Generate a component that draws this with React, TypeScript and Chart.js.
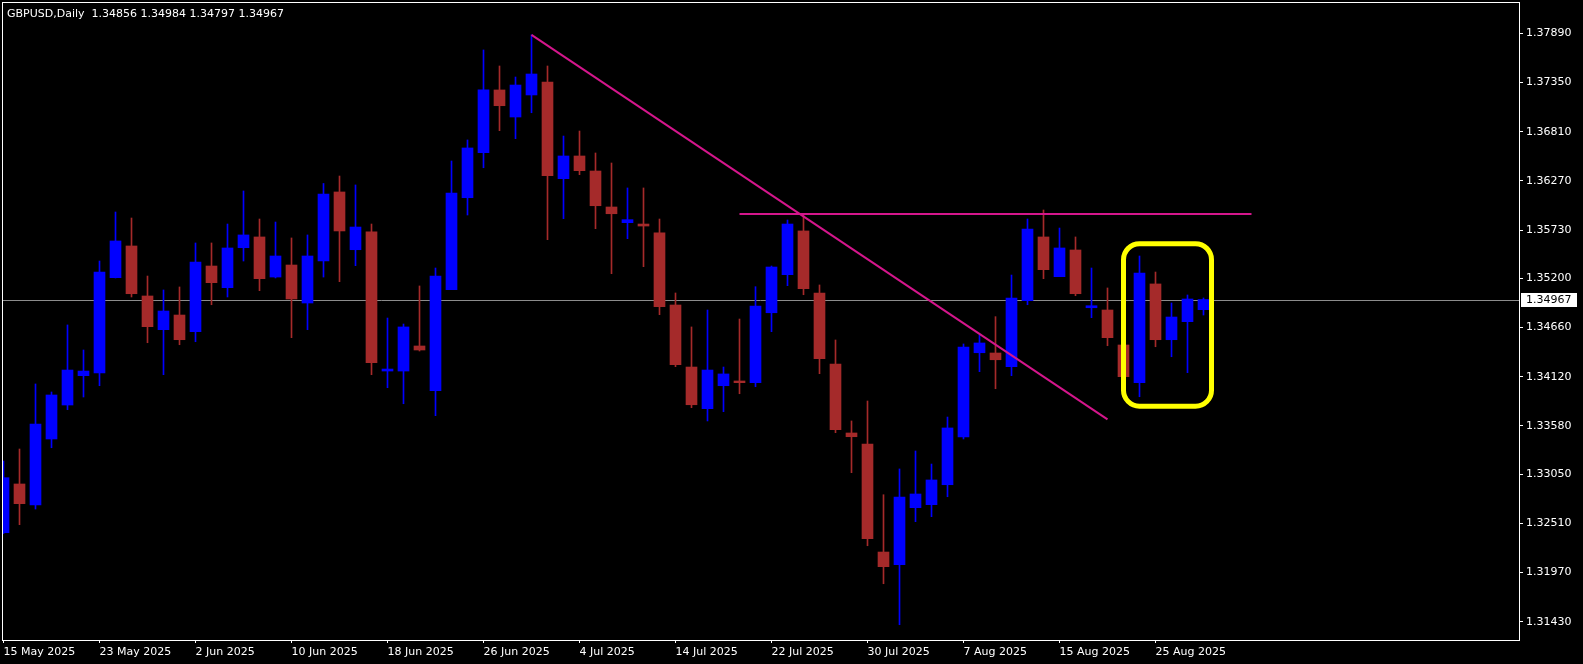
import React, { useEffect, useRef } from 'react';
import { Chart, registerables } from 'chart.js';

Chart.register(...registerables);

// ---------- data ----------
const symbol = 'GBPUSD';
const timeframe = 'Daily';

const xTickIndex = [0, 6, 12, 18, 24, 30, 36, 42, 48, 54, 60, 66, 72];
const xTickLabels = [
  '15 May 2025', '23 May 2025', '2 Jun 2025', '10 Jun 2025', '18 Jun 2025', '26 Jun 2025',
  '4 Jul 2025', '14 Jul 2025', '22 Jul 2025', '30 Jul 2025', '7 Aug 2025', '15 Aug 2025', '25 Aug 2025',
];
const yTickValues = [
  1.3789, 1.3735, 1.3681, 1.3627, 1.3573, 1.352, 1.3466, 1.3412, 1.3358, 1.3305, 1.3251, 1.3197, 1.3143,
];

const opens = [
  1.32407, 1.32942, 1.32711, 1.33436, 1.33809, 1.34131, 1.34161, 1.35207, 1.35555, 1.35006,
  1.34636, 1.34797, 1.34614, 1.35335, 1.35097, 1.35536, 1.35654, 1.35214, 1.35346, 1.34929,
  1.35390, 1.36148, 1.35514, 1.35709, 1.34182, 1.34182, 1.34457, 1.33966, 1.35075, 1.36085,
  1.36579, 1.37268, 1.36971, 1.37213, 1.37355, 1.36294, 1.36543, 1.36378, 1.35983, 1.35811,
  1.35796, 1.35698, 1.34907, 1.34226, 1.33769, 1.34021, 1.34073, 1.34054, 1.34822, 1.35240,
  1.35720, 1.35039, 1.34259, 1.33502, 1.33381, 1.32195, 1.32056, 1.32682, 1.32715, 1.32934,
  1.33458, 1.34383, 1.34380, 1.34230, 1.34954, 1.35654, 1.35218, 1.35511, 1.34877, 1.34852,
  1.34468, 1.34054, 1.35138, 1.34526, 1.34724, 1.34856,
];
const highs = [
  1.33194, 1.33326, 1.34040, 1.33952, 1.34688, 1.34413, 1.35390, 1.35928, 1.35862, 1.35225,
  1.35072, 1.35105, 1.35588, 1.35588, 1.35796, 1.36159, 1.35851, 1.35818, 1.35643, 1.35676,
  1.36241, 1.36323, 1.36225, 1.35796, 1.34764, 1.34698, 1.35116, 1.35313, 1.36488, 1.36719,
  1.37707, 1.37531, 1.37410, 1.37873, 1.37531, 1.36762, 1.36817, 1.36576, 1.36466, 1.36192,
  1.36192, 1.35851, 1.35039, 1.34666, 1.34852, 1.34226, 1.34753, 1.35108, 1.35335, 1.35840,
  1.35895, 1.35127, 1.34523, 1.33634, 1.33853, 1.32824, 1.33107, 1.33304, 1.33161, 1.33677,
  1.34479, 1.34578, 1.34779, 1.35236, 1.35851, 1.35950, 1.35752, 1.35654, 1.35313, 1.35094,
  1.34475, 1.35445, 1.35269, 1.34929, 1.35017, 1.34984,
];
const lows = [
  1.32398, 1.32495, 1.32667, 1.33340, 1.33758, 1.33897, 1.34021, 1.35204, 1.34995, 1.34493,
  1.34142, 1.34471, 1.34504, 1.34910, 1.34995, 1.35390, 1.35064, 1.35204, 1.34548, 1.34636,
  1.35214, 1.35163, 1.35339, 1.34142, 1.33999, 1.33823, 1.34402, 1.33692, 1.35075, 1.35895,
  1.36414, 1.36821, 1.36733, 1.37018, 1.35624, 1.35855, 1.36338, 1.35745, 1.35251, 1.35635,
  1.35328, 1.34801, 1.34230, 1.33780, 1.33634, 1.33736, 1.33933, 1.34010, 1.34614, 1.35119,
  1.35020, 1.34153, 1.33505, 1.33066, 1.32264, 1.31847, 1.31397, 1.32528, 1.32583, 1.32802,
  1.33436, 1.34175, 1.33988, 1.34131, 1.34910, 1.35196, 1.35218, 1.35009, 1.34768, 1.34460,
  1.34115, 1.33900, 1.34449, 1.34339, 1.34164, 1.34797,
];
const closes = [
  1.33011, 1.32726, 1.33601, 1.33919, 1.34193, 1.34182, 1.35269, 1.35610, 1.35031, 1.34669,
  1.34841, 1.34526, 1.35379, 1.35152, 1.35533, 1.35676, 1.35196, 1.35445, 1.34973, 1.35445,
  1.36126, 1.35720, 1.35763, 1.34274, 1.34204, 1.34666, 1.34413, 1.35225, 1.36137, 1.36631,
  1.37268, 1.37095, 1.37322, 1.37443, 1.36327, 1.36543, 1.36382, 1.35997, 1.35909, 1.35844,
  1.35774, 1.34888, 1.34252, 1.33812, 1.34193, 1.34150, 1.34054, 1.34896, 1.35324, 1.35796,
  1.35086, 1.34318, 1.33538, 1.33461, 1.32341, 1.32034, 1.32799, 1.32832, 1.32986, 1.33557,
  1.34446, 1.34490, 1.34306, 1.34984, 1.35741, 1.35295, 1.35533, 1.35031, 1.34899, 1.34548,
  1.34120, 1.35258, 1.34526, 1.34775, 1.34973, 1.34967,
];

// drawn objects (in bar-index / price units)
const trendX = [33, 69];
const trendY = [1.37873, 1.33652];
const resistX = [46, 78];
const resistY = [1.35906, 1.35906];
const boxX = [70, 75.5];
const boxY = [1.3558, 1.33795];

// ---------- view ----------
const X_MIN = -0.09375;
const X_MAX = 94.71875;
const Y_MIN = 1.312291;
const Y_MAX = 1.382336;

const UP = '#0000ff';
const DOWN = '#a52a2a';
const FONT = "'DejaVu Sans', sans-serif";

const fmt = (v: number) => v.toFixed(5);

const mt4Plugin = {
  id: 'mt4',
  beforeDraw(chart: any) {
    const { ctx, width, height } = chart;
    ctx.save();
    ctx.fillStyle = '#000';
    ctx.fillRect(0, 0, width, height);
    ctx.restore();
  },
  beforeDatasetsDraw(chart: any) {
    const { ctx, chartArea: a, scales } = chart;
    const last = closes[closes.length - 1];
    const py = Math.round(scales.y.getPixelForValue(last)) + 0.5;
    ctx.save();
    ctx.strokeStyle = '#8c8c8c';
    ctx.lineWidth = 1;
    ctx.beginPath();
    ctx.moveTo(a.left, py);
    ctx.lineTo(a.right, py);
    ctx.stroke();
    ctx.restore();
  },
  afterDatasetsDraw(chart: any) {
    const { ctx, chartArea: a, scales } = chart;
    const xs = scales.x;
    const ys = scales.y;
    ctx.save();
    ctx.beginPath();
    ctx.rect(a.left, a.top, a.right - a.left, a.bottom - a.top);
    ctx.clip();
    ctx.strokeStyle = '#d4168c';
    ctx.lineWidth = 2;
    ctx.beginPath();
    ctx.moveTo(xs.getPixelForValue(trendX[0]), ys.getPixelForValue(trendY[0]));
    ctx.lineTo(xs.getPixelForValue(trendX[1]), ys.getPixelForValue(trendY[1]));
    ctx.stroke();
    ctx.beginPath();
    ctx.moveTo(xs.getPixelForValue(resistX[0]), ys.getPixelForValue(resistY[0]));
    ctx.lineTo(xs.getPixelForValue(resistX[1]), ys.getPixelForValue(resistY[1]));
    ctx.stroke();
    // highlight box
    const l = xs.getPixelForValue(boxX[0]);
    const r = xs.getPixelForValue(boxX[1]);
    const t = ys.getPixelForValue(boxY[0]);
    const b = ys.getPixelForValue(boxY[1]);
    ctx.strokeStyle = '#ffff00';
    ctx.lineWidth = 5;
    ctx.beginPath();
    ctx.roundRect(l, t, r - l, b - t, 16);
    ctx.stroke();
    ctx.restore();
  },
  afterDraw(chart: any) {
    const { ctx, chartArea: a, scales } = chart;
    ctx.save();
    ctx.strokeStyle = '#ffffff';
    ctx.lineWidth = 1;
    ctx.strokeRect(a.left + 0.5, a.top + 0.5, a.right - a.left, a.bottom - a.top);
    // header
    const n = closes.length - 1;
    ctx.font = `11px ${FONT}`;
    ctx.fillStyle = '#ffffff';
    ctx.textBaseline = 'alphabetic';
    ctx.textAlign = 'left';
    ctx.fillText(
      `${symbol},${timeframe}  ${fmt(opens[n])} ${fmt(highs[n])} ${fmt(lows[n])} ${fmt(closes[n])}`,
      7,
      17
    );
    // price label
    const py = Math.round(scales.y.getPixelForValue(closes[n]));
    ctx.fillStyle = '#ffffff';
    ctx.fillRect(a.right + 2, py - 7, 56, 14);
    ctx.fillStyle = '#000000';
    ctx.textBaseline = 'middle';
    ctx.fillText(fmt(closes[n]), a.right + 7, py + 0.5);
    ctx.restore();
  },
};

export default function App() {
  const ref = useRef<HTMLCanvasElement | null>(null);

  useEffect(() => {
    if (!ref.current) return;
    const idx = opens.map((_, i) => i);
    const colors = idx.map((i) => (closes[i] >= opens[i] ? UP : DOWN));
    const chart = new Chart(ref.current, {
      type: 'bar',
      data: {
        datasets: [
          {
            label: 'body',
            data: idx.map((i) => ({ x: i, y: [opens[i], closes[i]] })) as any,
            backgroundColor: colors,
            borderWidth: 0,
            barThickness: 11,
            minBarLength: 1,
            grouped: false,
          } as any,
          {
            label: 'wick',
            data: idx.map((i) => ({ x: i, y: [lows[i], highs[i]] })) as any,
            backgroundColor: colors,
            borderWidth: 0,
            barThickness: 1,
            minBarLength: 1,
            grouped: false,
          } as any,
        ],
      },
      options: {
        animation: false,
        responsive: false,
        maintainAspectRatio: false,
        devicePixelRatio: 1,
        layout: { padding: { left: 2, top: 2, right: 0, bottom: 0 } },
        plugins: { legend: { display: false }, tooltip: { enabled: false } },
        scales: {
          x: {
            type: 'linear',
            position: 'bottom',
            min: X_MIN,
            max: X_MAX,
            offset: false,
            afterBuildTicks: (s: any) => {
              s.ticks = xTickIndex.map((v) => ({ value: v }));
            },
            afterFit: (s: any) => {
              s.height = 24;
              s.paddingLeft = 0;
              s.paddingRight = 0;
              s.paddingTop = 0;
              s.paddingBottom = 0;
            },
            grid: {
              display: true,
              offset: false,
              drawOnChartArea: false,
              drawTicks: true,
              tickLength: 3,
              color: '#ffffff',
            },
            border: { display: false },
            ticks: {
              autoSkip: false,
              maxRotation: 0,
              minRotation: 0,
              align: 'start',
              padding: 3,
              color: '#ffffff',
              font: { family: FONT, size: 11 },
              callback: (_v: any, i: number) => xTickLabels[i],
            },
          } as any,
          y: {
            type: 'linear',
            position: 'right',
            min: Y_MIN,
            max: Y_MAX,
            beginAtZero: false,
            afterBuildTicks: (s: any) => {
              s.ticks = yTickValues.map((v) => ({ value: v }));
            },
            afterFit: (s: any) => {
              s.width = 64;
              s.paddingLeft = 0;
              s.paddingRight = 0;
              s.paddingTop = 0;
              s.paddingBottom = 0;
            },
            grid: {
              display: true,
              drawOnChartArea: false,
              drawTicks: true,
              tickLength: 4,
              color: '#ffffff',
            },
            border: { display: false },
            ticks: {
              autoSkip: false,
              padding: 3,
              color: '#ffffff',
              font: { family: FONT, size: 11 },
              callback: (v: any) => Number(v).toFixed(5),
            },
          } as any,
        },
      } as any,
      plugins: [mt4Plugin],
    });
    return () => chart.destroy();
  }, []);

  return (
    <div
      style={{
        position: 'absolute',
        left: 0,
        top: 0,
        width: 1583,
        height: 664,
        background: '#000',
      }}
    >
      <canvas ref={ref} width={1583} height={664} style={{ display: 'block' }} />
    </div>
  );
}
